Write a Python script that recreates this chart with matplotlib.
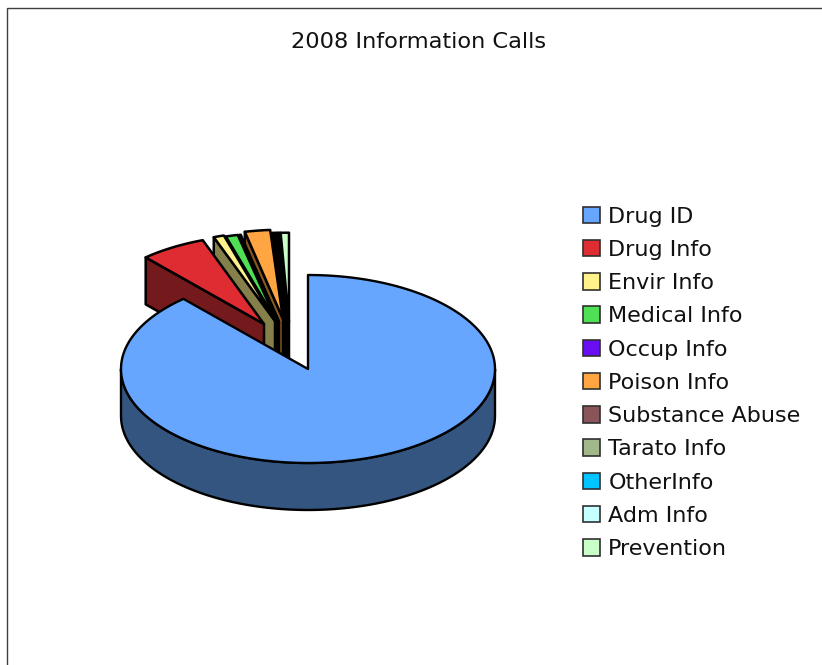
import numpy as np
import matplotlib
matplotlib.use("Agg")
import matplotlib.pyplot as plt
from matplotlib.patches import Polygon, Patch, Rectangle

categories = ["Drug ID", "Drug Info", "Envir Info", "Medical Info", "Occup Info", "Poison Info",
              "Substance Abuse", "Tarato Info", "OtherInfo", "Adm Info", "Prevention"]
values = [88.4, 6.0, 0.95, 1.1, 0.1, 2.3, 0.15, 0.1, 0.05, 0.1, 0.75]
colors = ["#66A6FF", "#DF2C33", "#FFF28A", "#4FE055", "#6A0DF5", "#FFA642",
          "#8A5558", "#A0B88A", "#00C4FF", "#C6FFFF", "#C8FFC8"]
side_colors = ["#33557F", "#751A1C", "#85804A", "#2A7530", "#35087A", "#85571F",
               "#452A2C", "#505C45", "#006280", "#638080", "#648064"]
# exploded slice tip offsets from the pie centre, pixels
tip_dx = [0, -44, -33, -31, -29, -25, -23, -22, -21, -20, -19]
tip_dy = [0, -45, -48, -47, -47, -50, -47, -47, -47, -47, -47]

CX, CY, RX, RY, DEPTH = 308, 369, 187, 94, 47
EXPLODED_SCALE = 0.95
LW = 1.7
LW_EXPLODED = 1.8

fig = plt.figure(figsize=(8.22, 6.65), dpi=100)
ax = fig.add_axes([0, 0, 1, 1])
ax.set_xlim(0, 822)
ax.set_ylim(665, 0)
ax.axis("off")

ax.add_patch(Rectangle((7, 8), 900, 800, fill=False, edgecolor="#404040", lw=1.0))


def arc(a0, a1, cx, cy, scale=1.0, n=80):
    t = np.radians(np.linspace(a0, a1, n))
    return np.column_stack([cx + scale * RX * np.sin(t), cy - scale * RY * np.cos(t)])


edges = np.concatenate([[0], np.cumsum(values)]) / np.sum(values) * 360.0

# exploded slices, drawn from the back (right) to the front (left)
for i in range(len(values) - 1, 0, -1):
    a0, a1 = edges[i], edges[i + 1]
    tx, ty = CX + tip_dx[i], CY + tip_dy[i]
    start = arc(a0, a0, tx, ty, EXPLODED_SCALE, n=1)[0]
    wall = np.array([start, (tx, ty), (tx, ty + DEPTH), (start[0], start[1] + DEPTH)])
    ax.add_patch(Polygon(wall, closed=True, facecolor=side_colors[i], edgecolor="black", lw=LW_EXPLODED, joinstyle="round"))
    top = np.vstack([[(tx, ty)], arc(a0, a1, tx, ty, EXPLODED_SCALE)])
    ax.add_patch(Polygon(top, closed=True, facecolor=colors[i], edgecolor="black", lw=LW_EXPLODED, joinstyle="round"))

# main slice: outer wall, then top
low = arc(90, 270, CX, CY)
wall = np.vstack([low, low[::-1] + [0, DEPTH]])
ax.add_patch(Polygon(wall, closed=True, facecolor=side_colors[0], edgecolor="black", lw=LW, joinstyle="round"))
top = np.vstack([[(CX, CY)], arc(edges[0], edges[1], CX, CY, n=300)])
ax.add_patch(Polygon(top, closed=True, facecolor=colors[0], edgecolor="black", lw=LW, joinstyle="round"))

fig.text(418.5 / 822, 1 - 42 / 665, "2008 Information Calls", ha="center", va="center",
         fontsize=16.2, color="#111111", family="DejaVu Sans")

handles = [Patch(facecolor=c, edgecolor="#303030", lw=1.2) for c in colors]
leg = ax.legend(handles, categories, loc="upper left", bbox_to_anchor=(576.5 / 822, 1 - 200 / 665),
                bbox_transform=fig.transFigure, frameon=False, fontsize=16, handlelength=0.77,
                handleheight=0.77, handletextpad=0.36, labelspacing=0.595, borderpad=0.3,
                borderaxespad=0, labelcolor="#111111")

fig.savefig("out.png", dpi=100)
